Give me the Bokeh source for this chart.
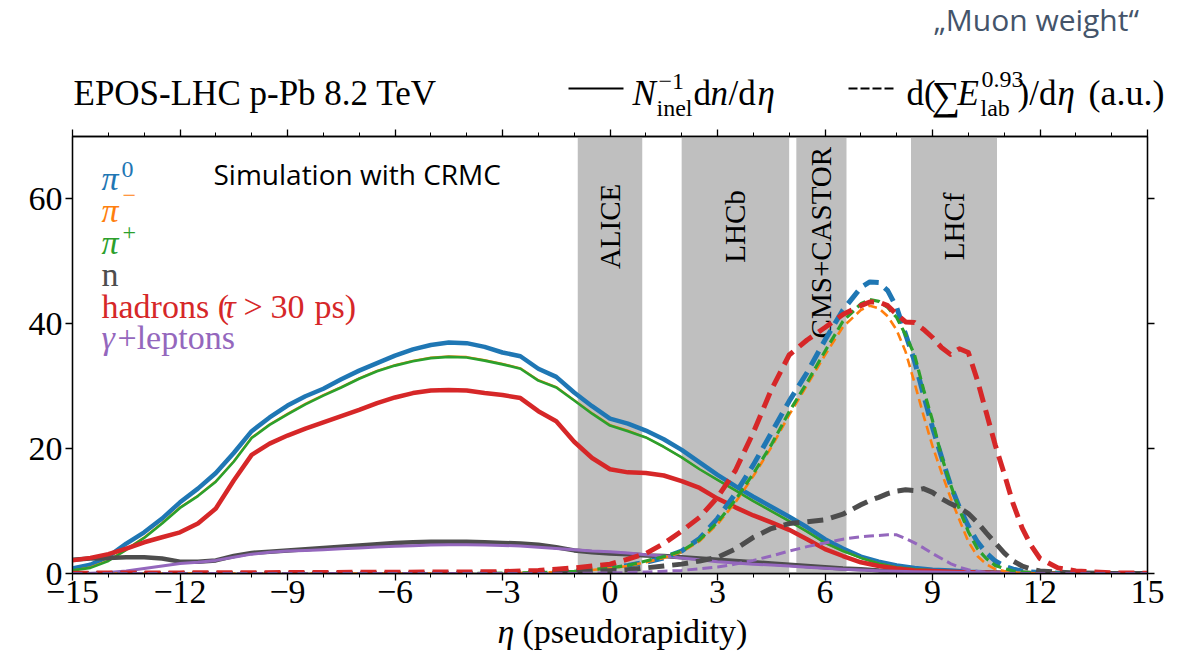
import numpy as np
from bokeh.plotting import figure
from bokeh.layouts import column
from bokeh.models import Label, FixedTicker, Range1d, LinearAxis
from bokeh.core.properties import value
from bokeh.embed import file_html
from bokeh.resources import INLINE

# ---------------- data ----------------
eta_solid = [-15, -14.5, -14, -13.5, -13, -12.5, -12, -11.5, -11, -10.5, -10, -9.5, -9, -8.5, -8,
             -7.5, -7, -6.5, -6, -5.5, -5, -4.5, -4, -3.5, -3, -2.5, -2, -1.5, -1, -0.5, 0,
             0.5, 1, 1.5, 2, 2.5, 3, 3.5, 4, 4.5, 5, 5.5, 6, 6.5, 7, 7.5, 8, 8.5, 9, 9.5, 10,
             11, 12, 13, 14, 15]

pi0_n = [0.8, 1.4, 2.7, 4.8, 6.6, 8.8, 11.4, 13.6, 16.1, 19.3, 22.8, 25.0, 26.9, 28.4, 29.6,
         31.1, 32.5, 33.7, 34.9, 35.9, 36.6, 37.0, 36.9, 36.3, 35.4, 34.8, 32.8, 31.5, 29.0, 26.8, 24.8,
         24.0, 22.9, 21.5, 19.8, 17.8, 15.8, 14.0, 12.3, 10.7, 9.1, 7.4, 5.5, 4.0, 2.7, 1.9, 1.3, 0.9, 0.6, 0.5, 0.3,
         0.1, 0.05, 0, 0, 0]
pim_n = [0.5, 1.0, 2.1, 3.9, 5.8, 8.1, 10.6, 12.5, 14.8, 18.0, 21.8, 23.9, 25.6, 27.2, 28.6,
         29.9, 31.3, 32.5, 33.4, 34.1, 34.6, 34.8, 34.7, 34.2, 33.6, 32.9, 31.0, 29.9, 27.8, 25.7, 23.8,
         22.9, 21.8, 20.3, 18.6, 16.7, 15.0, 13.3, 11.6, 10.0, 8.4, 6.7, 4.9, 3.6, 2.5, 1.6, 1.0, 0.7, 0.5, 0.3, 0.2,
         0.1, 0, 0, 0, 0]
pip_n = [0.5, 0.9, 2.0, 3.8, 5.7, 8.0, 10.5, 12.4, 14.7, 17.9, 21.7, 23.8, 25.5, 27.1, 28.5,
         29.8, 31.2, 32.4, 33.3, 34.0, 34.5, 34.7, 34.6, 34.1, 33.5, 32.8, 30.9, 29.8, 27.7, 25.6, 23.7,
         22.8, 21.8, 20.3, 18.6, 16.7, 15.0, 13.3, 11.6, 10.0, 8.4, 6.7, 4.9, 3.6, 2.5, 1.6, 1.0, 0.7, 0.5, 0.3, 0.2,
         0.1, 0, 0, 0, 0]
neu_n = [2.2, 2.4, 2.5, 2.6, 2.6, 2.4, 1.9, 1.9, 2.1, 2.8, 3.3, 3.5, 3.7, 3.9, 4.1,
         4.3, 4.5, 4.7, 4.9, 5.0, 5.1, 5.1, 5.1, 5.0, 4.9, 4.8, 4.6, 4.2, 3.7, 3.4, 3.2,
         3.1, 2.9, 2.8, 2.6, 2.4, 2.2, 2.0, 1.8, 1.6, 1.4, 1.2, 1.0, 0.8, 0.7, 0.5, 0.4, 0.3, 0.25, 0.2, 0.15,
         0.1, 0.05, 0, 0, 0]
had_n = [2.1, 2.5, 3.1, 4.0, 5.0, 5.8, 6.6, 8.0, 10.4, 14.9, 19.0, 20.8, 22.1, 23.2, 24.2,
         25.2, 26.2, 27.3, 28.2, 28.9, 29.3, 29.4, 29.3, 28.9, 28.6, 28.1, 26.0, 24.4, 21.1, 18.5, 16.7,
         16.2, 16.1, 15.7, 14.8, 13.7, 12.0, 10.6, 9.3, 8.2, 7.0, 5.5, 3.9, 2.8, 1.8, 1.2, 0.8, 0.5, 0.4, 0.3, 0.2,
         0.1, 0.05, 0, 0, 0]
gam_n = [0.0, 0.05, 0.15, 0.4, 0.8, 1.2, 1.6, 1.8, 2.1, 2.6, 3.1, 3.4, 3.6, 3.7, 3.8,
         3.95, 4.1, 4.25, 4.35, 4.45, 4.55, 4.6, 4.6, 4.55, 4.5, 4.4, 4.2, 4.0, 3.8, 3.6, 3.5,
         3.3, 3.0, 2.8, 2.5, 2.2, 1.9, 1.7, 1.5, 1.35, 1.2, 1.0, 0.85, 0.7, 0.55, 0.45, 0.35, 0.3, 0.25, 0.2, 0.15,
         0.1, 0.05, 0, 0, 0]

eta_dash = [-15, -12, -9, -6, -4, -3, -2, -1.5, -1, -0.5, 0, 0.5, 1, 1.5, 2, 2.5, 3, 3.5, 4, 4.5,
            5, 5.5, 6, 6.5, 7, 7.25, 7.5, 7.75, 8, 8.25, 8.5, 8.75, 9, 9.25, 9.5, 9.75, 10, 10.25,
            10.5, 10.75, 11, 11.25, 11.5, 11.75, 12, 12.5, 13, 14, 15]

pi0_e = [0, 0, 0, 0, 0.05, 0.1, 0.2, 0.3, 0.4, 0.6, 0.9, 1.3, 1.8, 2.5, 3.6, 5.6, 8.8, 12.8, 17.4, 22.5,
         27.6, 32.2, 37.4, 42.2, 45.8, 46.7, 46.6, 45.3, 42.6, 38.3, 34.0, 28.6, 23.4, 18.7, 14.2, 10.6, 7.6, 5.1,
         3.3, 2.0, 1.2, 0.7, 0.4, 0.25, 0.15, 0.05, 0, 0, 0]
pim_e = [0, 0, 0, 0, 0, 0.05, 0.15, 0.25, 0.35, 0.55, 0.85, 1.2, 1.8, 2.5, 3.4, 5.2, 7.9, 11.4, 15.6, 20.2,
         25.4, 30.2, 35.0, 39.5, 42.2, 42.9, 42.5, 41.2, 39.0, 35.5, 30.5, 25.3, 20.4, 16.2, 12.2, 8.6, 5.1, 2.8,
         1.5, 0.7, 0.4, 0.2, 0.1, 0.05, 0.03, 0, 0, 0, 0]
pip_e = [0, 0, 0, 0, 0, 0.05, 0.15, 0.25, 0.35, 0.6, 0.9, 1.3, 2.0, 2.7, 3.6, 5.4, 8.2, 11.8, 16.0, 20.6,
         25.9, 30.6, 35.6, 40.4, 43.2, 43.9, 43.6, 42.6, 41.0, 38.2, 35.0, 29.5, 24.5, 18.8, 14.3, 10.3, 6.7, 4.0,
         2.4, 1.3, 0.8, 0.4, 0.25, 0.15, 0.1, 0.03, 0, 0, 0]
neu_e = [0, 0, 0, 0, 0, 0.05, 0.1, 0.15, 0.25, 0.35, 0.45, 0.6, 0.9, 1.2, 1.5, 2.0, 2.6, 3.9, 5.8, 7.2,
         8.0, 8.3, 8.6, 9.5, 11.0, 11.7, 12.2, 12.8, 13.2, 13.4, 13.3, 13.6, 13.0, 12.0, 11.2, 10.5, 9.6, 8.2,
         6.5, 4.9, 3.3, 2.0, 1.2, 0.7, 0.4, 0.2, 0.1, 0, 0]
had_e = [0.05, 0.1, 0.15, 0.2, 0.25, 0.3, 0.5, 0.7, 0.9, 1.2, 1.5, 2.3, 3.2, 4.8, 6.8, 9.0, 12.2, 16.5, 22.6, 29.4,
         35.0, 37.4, 39.4, 41.5, 42.9, 43.5, 43.5, 42.9, 41.5, 40.3, 40.2, 39.1, 37.8, 36.2, 35.1, 36.0, 35.4, 31.0,
         25.8, 20.6, 16.0, 11.2, 7.3, 4.5, 2.4, 0.9, 0.4, 0.1, 0.05]
gam_e = [0, 0, 0, 0, 0, 0, 0, 0, 0, 0.05, 0.1, 0.15, 0.25, 0.35, 0.5, 0.75, 1.05, 1.5, 2.1, 2.8,
         3.6, 4.3, 4.9, 5.5, 5.9, 6.0, 6.1, 6.2, 6.2, 5.6, 4.9, 4.1, 3.2, 2.4, 1.6, 1.0, 0.6, 0.35,
         0.2, 0.1, 0.05, 0, 0, 0, 0, 0, 0, 0, 0]

band_names = ["ALICE", "LHCb", "CMS+CASTOR", "LHCf"]
band_lo = [-0.9, 2.0, 5.2, 8.4]
band_hi = [0.9, 5.0, 6.6, 10.8]
band_label_y = [55.6, 55.6, 53.0, 55.6]

x_ticks = [-15, -12, -9, -6, -3, 0, 3, 6, 9, 12, 15]
y_ticks = [0, 20, 40, 60]

C_PI0, C_PIM, C_PIP = "#1f77b4", "#ff7f0e", "#2ca02c"
C_N, C_HAD, C_GAM = "#4d4d4d", "#d62728", "#9467bd"

SERIF = "Liberation Serif"
SANS = "Open Sans"

# ---------------- layout (page pixels) ----------------
W = 1190
HEAD_H = 122                 # header strip 0..122
BL, BR, BT, BB = 72, 43, 14, 53
FH = 437
MAIN_H = BT + FH + BB        # main figure 122..626
FOOT_OVERLAP = 22
FOOT_H = 48                  # footer strip 604..652 (overlaps main bottom border)
FOOT_TOP = HEAD_H + MAIN_H - FOOT_OVERLAP
XMIN, XMAX, YMIN, YMAX = -15, 15, 0, 70
FW = W - BL - BR
FRAME_BOTTOM = HEAD_H + BT + FH


def X(px):  # page pixel -> data x of main plot
    return XMIN + (px - BL) / FW * (XMAX - XMIN)


def Y(py):  # page pixel -> data y of main plot
    return YMIN + (FRAME_BOTTOM - py) / FH * (YMAX - YMIN)


def kshift(size, font):
    # baseline correction of the label renderer (empirical)
    return size * (0.42 if font == SANS else 0.32)


def strip(height, top, **kw):
    f = figure(width=W, height=height, x_range=Range1d(0, W), y_range=Range1d(top + height, top),
               output_backend="svg", toolbar_location=None, min_border=0,
               min_border_left=0, min_border_right=0, min_border_top=0, min_border_bottom=0,
               x_axis_location=None, y_axis_location=None, frame_align=False, **kw)
    f.grid.visible = False
    f.outline_line_color = None
    return f


def add_label(fig, x, y, text, size, font, style, color):
    fig.add_layout(Label(x=x, y=y, text=text, text_font=font, text_font_size=f"{size}px",
                         text_font_style=style, text_color=color, text_align="left",
                         text_baseline="alphabetic"))


def put(fig, px, py, text, size=35, font=SERIF, style="normal", color="black"):
    # strips: data coordinates are page pixels
    add_label(fig, px, py - kshift(size, font), text, size, font, style, color)


# ---------------- header ----------------
hd = strip(HEAD_H, 0)
put(hd, 73, 104, "EPOS-LHC p-Pb 8.2 TeV")
hd.line(x=[568, 623], y=[88, 88], line_color="black", line_width=2)
put(hd, 632, 104, "N", style="italic")
put(hd, 658, 89, "\u22121", size=24)
put(hd, 656, 115, "inel", size=24)
put(hd, 693, 104, "d")
put(hd, 710, 104, "n", style="italic")
put(hd, 728, 104, "/d")
put(hd, 757, 104, "\u03b7", style="italic")

hd.line(x=[848, 893], y=[88, 88], line_color="black", line_width=2, line_dash="9 3")
put(hd, 906, 104, "d(")
put(hd, 931, 108, "\u2211", size=40)
put(hd, 957, 104, "E", style="italic")
put(hd, 981, 87, "0.93", size=24)
put(hd, 980, 115, "lab", size=24)
put(hd, 1017, 104, ")/d")
put(hd, 1057, 104, "\u03b7", style="italic")
put(hd, 1088, 104, "(a.u.)", size=36)

put(hd, 933, 32, "\u201eMuon weight\u201c", size=30, font=SANS, color="#44546a")

# ---------------- main plot ----------------
p = figure(width=W, height=MAIN_H, x_range=Range1d(XMIN, XMAX), y_range=Range1d(YMIN, YMAX),
           output_backend="svg", toolbar_location=None, frame_align=False,
           min_border_left=BL, min_border_right=BR, min_border_top=BT, min_border_bottom=BB)
p.grid.visible = False
p.outline_line_color = "black"
p.outline_line_width = 1.3
p.background_fill_color = "white"
p.border_fill_color = "white"

minus = lambda v: ("\u2212" + str(abs(v))) if v < 0 else str(v)


def style_axis(ax, ticks, minor, labels=True):
    ax.ticker = FixedTicker(ticks=ticks, minor_ticks=minor)
    ax.axis_line_color = "black"
    ax.axis_line_width = 1.3
    ax.major_tick_line_color = "black"
    ax.major_tick_line_width = 1.3
    ax.minor_tick_line_color = "black"
    ax.minor_tick_line_width = 1.0
    ax.major_tick_in = 0
    ax.major_tick_out = 7
    ax.minor_tick_in = 0
    ax.minor_tick_out = 4
    ax.major_label_text_font = SERIF
    ax.major_label_standoff = 0
    if labels:
        ax.major_label_text_font_size = "34px"
        ax.major_label_text_color = "black"
        ax.major_label_overrides = {t: minus(t) for t in ticks}
    else:
        ax.major_label_text_font_size = "1px"
        ax.major_label_text_color = None


x_minor = list(range(-15, 16))
style_axis(p.xaxis[0], x_ticks, x_minor)
style_axis(p.yaxis[0], y_ticks, [])
p.yaxis[0].major_label_standoff = 3

ax_top = LinearAxis()
style_axis(ax_top, x_ticks, x_minor, labels=False)
p.add_layout(ax_top, "above")
ax_right = LinearAxis()
style_axis(ax_right, y_ticks, [], labels=False)
p.add_layout(ax_right, "right")

# detector bands
p.quad(left=band_lo, right=band_hi, bottom=[YMIN] * 4, top=[YMAX] * 4,
       fill_color="#bfbfbf", line_color=None)
band_mid = [(a + b) / 2 for a, b in zip(band_lo, band_hi)]
p.text(x=band_mid, y=band_label_y, text=band_names, angle=np.pi / 2,
       text_font=value(SERIF), text_font_size="29px", text_align="center",
       text_baseline="middle", text_color="black")

# solid lines (number density)
for ys, c, w in [(pi0_n, C_PI0, 4.5), (pim_n, C_PIM, 2.0), (pip_n, C_PIP, 2.6),
                 (neu_n, C_N, 4.5), (had_n, C_HAD, 4.5), (gam_n, C_GAM, 3.0)]:
    p.line(eta_solid, ys, line_color=c, line_width=w, line_join="round")

# dashed lines (energy weight)
for ys, c, w, d in [(pi0_e, C_PI0, 5.0, "16 8"), (pim_e, C_PIM, 2.6, "9 5"),
                    (pip_e, C_PIP, 3.2, "10 5"), (neu_e, C_N, 5.0, "16 8"),
                    (had_e, C_HAD, 5.0, "16 8"), (gam_e, C_GAM, 3.0, "10 5")]:
    p.line(eta_dash, ys, line_color=c, line_width=w, line_dash=d, line_join="round")


def lab(px, py, text, size=34, font=SERIF, style="normal", color="black"):
    add_label(p, X(px), Y(py - kshift(size, font)), text, size, font, style, color)


# species legend
lab(101, 189, "\u03c0", style="italic", color=C_PI0)
lab(121, 177, "0", size=24, color=C_PI0)
lab(101, 221, "\u03c0", style="italic", color=C_PIM)
lab(122, 203, "\u2212", size=24, color=C_PIM)
lab(101, 253, "\u03c0", style="italic", color=C_PIP)
lab(122, 240, "+", size=24, color=C_PIP)
lab(101, 285, "n", color=C_N)
lab(101, 317, "hadrons (", color=C_HAD)
lab(223, 317, "\u03c4", style="italic", color=C_HAD)
lab(243, 317, ">", color=C_HAD)
lab(270, 317, "30", color=C_HAD)
lab(314, 317, "ps)", color=C_HAD)
lab(101, 348, "\u03b3", style="italic", color=C_GAM)
lab(117, 348, "+leptons", color=C_GAM)

lab(213, 185, "Simulation with CRMC", size=28, font=SANS)

# ---------------- footer (x-axis title, transparent, overlapping) ----------------
ft = strip(FOOT_H, FOOT_TOP, margin=(-FOOT_OVERLAP, 0, 0, 0))
ft.background_fill_alpha = 0
ft.border_fill_alpha = 0
put(ft, 497, 642, "\u03b7", size=34, style="italic")
put(ft, 522, 642, "(pseudorapidity)", size=34)

layout = column(hd, p, ft, spacing=0)
open("out.html", "w").write(file_html(layout, INLINE))
